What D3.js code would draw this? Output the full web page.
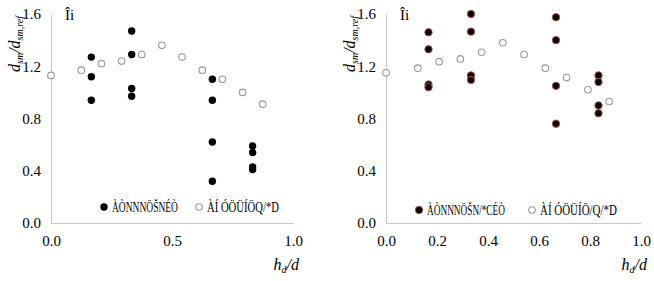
<!DOCTYPE html>
<html><head><meta charset="utf-8">
<script src="https://cdn.jsdelivr.net/npm/d3@7"></script>
<style>body{margin:0;background:#fff}svg{display:block}</style>
</head><body><svg id="c" width="654" height="281"></svg>
<script>
// Panel A (left)
const yTicks = [0, 0.4, 0.8, 1.2, 1.6];
const xTicksA = [0, 0.5, 1.0];
const xTicksB = [0, 0.2, 0.4, 0.6, 0.8, 1.0];
const filledA_x = [1/6,1/6,1/6, 1/3,1/3,1/3,1/3, 2/3,2/3,2/3,2/3, 5/6,5/6,5/6,5/6];
const filledA_y = [1.27,1.12,0.94, 1.47,1.29,1.03,0.97, 1.10,0.94,0.62,0.32, 0.59,0.54,0.43,0.41];
const openX = [0, 3/24, 5/24, 7/24, 9/24, 11/24, 13/24, 15/24, 17/24, 19/24, 21/24];
const openA_y = [1.13,1.17,1.22,1.24,1.29,1.36,1.27,1.17,1.10,1.00,0.91];
// Panel B (right)
const filledB_x = [1/6,1/6,1/6,1/6, 1/3,1/3,1/3,1/3, 2/3,2/3,2/3,2/3, 5/6,5/6,5/6,5/6];
const filledB_y = [1.46,1.33,1.06,1.04, 1.60,1.465,1.13,1.095, 1.575,1.40,1.05,0.76, 1.13,1.08,0.90,0.84];
const openB_y = [1.15,1.185,1.235,1.256,1.307,1.38,1.29,1.185,1.113,1.02,0.93];
const legendA = ["ÀÒNNNÖŠNÉÒ", "ÀÍ ÓÖÜÍÖQ/*D"];
const legendB = ["ÀÒNNNÖŠN/*CÉÒ", "ÀÍ ÓÖÜÍÖ/Q/*D"];
const titleText = "Îi";

const svg = d3.select("#c");
const FONT = "'Liberation Serif', 'DejaVu Serif', serif";

function squeezedText(g, x, y, str, width) {
  const t = g.append("text").attr("font-family",FONT).attr("font-size",15).text(str);
  const w = t.node().getComputedTextLength();
  const s = Math.min(1, width / w);
  t.attr("transform", `translate(${x},${y}) scale(${s},1)`);
  return t;
}

function panel(cfg) {
  const x = d3.scaleLinear().domain([0,1]).range([cfg.x0, cfg.x1]);
  const y = d3.scaleLinear().domain([0,1.6]).range([223, 14]);
  const g = svg.append("g");
  const xa = g.append("g").attr("transform","translate(0,223)")
    .call(d3.axisBottom(x).tickValues(cfg.xTicks).tickSize(0).tickPadding(12).tickFormat(d3.format(".1f")));
  const ya = g.append("g").attr("transform",`translate(${cfg.x0},0)`)
    .call(d3.axisLeft(y).tickValues(yTicks).tickSize(0).tickPadding(10).tickFormat(d3.format(".1f")));
  [xa, ya].forEach(a => {
    a.select(".domain").attr("stroke","#c8c8c8").attr("stroke-width",1.2);
    a.selectAll("text").attr("font-family",FONT).attr("font-size",15).attr("fill","#000");
  });
  // title
  g.append("text").attr("x", cfg.x0+14).attr("y", 20).attr("font-family",FONT)
    .attr("font-size",15).text(titleText);
  // x label
  const xl = g.append("text").attr("x", cfg.x1+6).attr("y", 270).attr("text-anchor","end")
    .attr("font-family",FONT).attr("font-size",16).attr("font-style","italic");
  xl.append("tspan").text("h");
  xl.append("tspan").attr("font-size",10).attr("dy",3).text("d");
  xl.append("tspan").attr("dy",-3).text("/d");
  // y label
  const yl = g.append("text").attr("transform",`translate(${cfg.x0-31},44) rotate(-90)`)
    .attr("text-anchor","middle").attr("font-family",FONT).attr("font-size",16).attr("font-style","italic");
  yl.append("tspan").text("d");
  yl.append("tspan").attr("font-size",10).attr("dy",3).text("sm");
  yl.append("tspan").attr("dy",-3).text("/d");
  yl.append("tspan").attr("font-size",10).attr("dy",3).text("sm,ref");
  // open circles
  g.selectAll("circle.o").data(openX.map((v,i)=>[v,cfg.openY[i]])).join("circle")
    .attr("class","o").attr("cx",d=>x(d[0])).attr("cy",d=>y(d[1])).attr("r",3.3)
    .attr("fill","#fff").attr("stroke","#999").attr("stroke-width",1.1);
  // filled circles
  g.selectAll("circle.f").data(cfg.fx.map((v,i)=>[v,cfg.fy[i]])).join("circle")
    .attr("class","f").attr("cx",d=>x(d[0])).attr("cy",d=>y(d[1])).attr("r",3.7)
    .attr("fill","#000").attr("stroke",cfg.edge).attr("stroke-width",cfg.edge==="none"?0:1);
  // legend
  const lg = g.append("g");
  lg.append("circle").attr("cx",cfg.lx1).attr("cy",cfg.ly).attr("r",3.7).attr("fill","#000")
    .attr("stroke",cfg.edge).attr("stroke-width",cfg.edge==="none"?0:1);
  squeezedText(lg, cfg.lx1+8, cfg.ly+5, cfg.legend[0], cfg.tw1);
  lg.append("circle").attr("cx",cfg.lx2).attr("cy",cfg.ly).attr("r",3.3).attr("fill","#fff")
    .attr("stroke","#999").attr("stroke-width",1.1);
  squeezedText(lg, cfg.lx2+8, cfg.ly+5, cfg.legend[1], cfg.tw2);
}

panel({x0:51, x1:293, xTicks:xTicksA, fx:filledA_x, fy:filledA_y, openY:openA_y, edge:"none",
  legend:legendA, lx1:104, lx2:199, ly:207, tw1:66, tw2:72});
panel({x0:386, x1:641, xTicks:xTicksB, fx:filledB_x, fy:filledB_y, openY:openB_y, edge:"#b5504a",
  legend:legendB, lx1:419, lx2:532, ly:210, tw1:78, tw2:77});
</script></body></html>
